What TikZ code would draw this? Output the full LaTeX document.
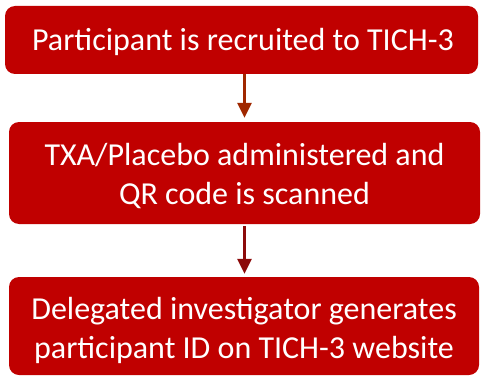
\documentclass[tikz,border=0pt]{standalone}
\usepackage{fontspec}
\setmainfont{Carlito}
\usetikzlibrary{arrows.meta}
\definecolor{boxred}{HTML}{C00000}
\definecolor{arrowA}{HTML}{A02800}
\definecolor{arrowB}{HTML}{8C0A0A}
\tikzset{
  stepbox/.style={fill=boxred, draw=none, rounded corners=10pt, inner sep=0pt},
  boxtext/.style={text=white, font=\fontsize{32}{39}\selectfont, align=center,
    inner sep=0pt, text height=22pt, text depth=7pt},
  flow/.style={line width=2.5pt, -{Triangle[length=15pt,width=14pt]}}
}
\begin{document}
\begin{tikzpicture}[x=1pt,y=-1pt]
\useasboundingbox (0,0) rectangle (481,377);
\node[stepbox, minimum width=473pt, minimum height=68pt] (a) at (241.5,40) {};
\node[stepbox, minimum width=471pt, minimum height=102pt] (b) at (244.5,173) {};
\node[stepbox, minimum width=470pt, minimum height=98pt] (c) at (244,326) {};
\node[boxtext] (at) at (243,43) {Participant is recruited to TICH-3};
\node[boxtext] (bt) at (244.5,196.5) {TXA/Placebo administered and\\QR code is scanned};
\node[boxtext] (ct) at (244,350.5) {Delegated investigator generates\\participant ID on TICH-3 website};
\draw[flow, arrowA, shorten >=4pt] ([xshift=3pt]a.south) -- (b.north);
\draw[flow, arrowB, shorten <=2pt, shorten >=3pt] (b.south) -- ([xshift=0.5pt]c.north);
\end{tikzpicture}
\end{document}
